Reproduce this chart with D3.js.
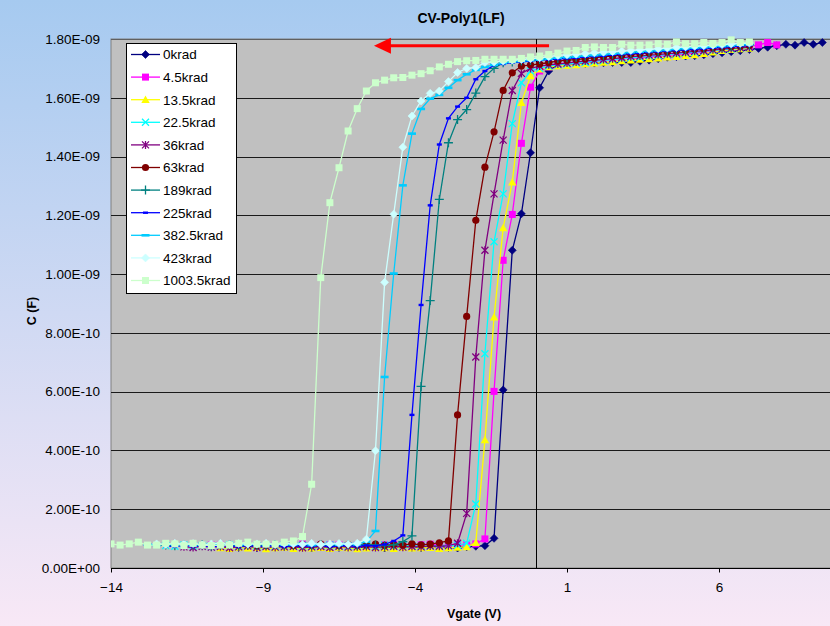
<!DOCTYPE html>
<html><head><meta charset="utf-8">
<script src="https://cdn.jsdelivr.net/npm/d3@7"></script>
<style>
body{margin:0;background:#fff;}
svg{display:block;font-family:"Liberation Sans",Arial,sans-serif;}
</style>
</head><body>
<svg id="chart" width="830" height="626"></svg>
<script>
// ---------------- DATA ----------------
const chartTitle = "CV-Poly1(LF)";
const xTitle = "Vgate (V)";
const yTitle = "C (F)";
const capUnit = 1e-10; // series values below are in units of 1e-10 F

// gate voltage sweep points (V)
const vgate = [-14.0,-13.7,-13.4,-13.1,-12.8,-12.5,-12.2,-11.9,-11.6,-11.3,-11.0,-10.7,-10.4,-10.1,-9.8,-9.5,-9.2,-8.9,-8.6,-8.3,
  -8.0,-7.7,-7.4,-7.1,-6.8,-6.5,-6.2,-5.9,-5.6,-5.3,-5.0,-4.7,-4.4,-4.1,-3.8,-3.5,-3.2,-2.9,-2.6,-2.3,
  -2.0,-1.7,-1.4,-1.1,-0.8,-0.5,-0.2,0.1,0.4,0.7,1.0,1.3,1.6,1.9,2.2,2.5,2.8,3.1,3.4,3.7,
  4.0,4.3,4.6,4.9,5.2,5.5,5.8,6.1,6.4,6.7,7.0,7.3,7.6,7.9,8.2,8.5,8.8,9.1,9.4,9.7];

const seriesNames = ["0krad","4.5krad","13.5krad","22.5krad","36krad","63krad","189krad","225krad","382.5krad","423krad","1003.5krad"];
const seriesColors = ["#000080","#FF00FF","#FFFF00","#00FFFF","#800080","#800000","#008080","#0000FF","#00CCFF","#CCFFFF","#CCFFCC"];
const seriesMarkers = ["diamond","square","triangle","x","star","circle","plus","dash","longdash","diamond","square"];
// first sweep voltage of each series
const seriesStartV = [-10.1,-10.7,-10.4,-12.2,-11.6,-10.7,-12.2,-12.2,-12.8,-12.5,-14.0];

const c0krad = [0.72,0.70,0.74,0.69,0.72,0.71,0.75,0.70,0.73,0.68,0.72,0.74,0.70,0.71,0.69,0.73,0.72,0.68,0.71,0.74,0.70,0.69,0.72,0.73,0.70,0.68,0.72,0.74,
  0.76,1.01,6.06,10.81,12.05,14.13,16.34,16.91,17.14,
  17.15,17.15,17.17,17.18,17.19,17.20,17.20,17.20,17.24,17.28,17.33,17.38,17.40,17.42,17.43,17.46,17.50,17.53,17.57,17.60,17.64,17.68,17.72,17.77,17.82,17.79,17.88,17.82,17.88];
const c4_5krad = [0.78,0.80,0.76,0.79,0.82,0.77,0.78,0.80,0.76,0.79,0.81,0.77,0.78,0.80,0.79,0.76,0.78,0.81,0.77,0.79,0.80,0.78,0.76,0.79,0.81,0.78,0.77,0.80,0.79,
  0.82,0.99,6.01,10.47,12.03,14.45,16.36,16.91,17.05,17.10,
  17.15,17.18,17.22,17.25,17.28,17.30,17.33,17.35,17.36,17.40,17.42,17.45,17.47,17.50,17.52,17.56,17.58,17.62,17.66,17.70,17.75,17.80,17.88,17.80];
const c13_5krad = [0.68,0.66,0.70,0.67,0.69,0.65,0.68,0.70,0.66,0.68,0.67,0.69,0.66,0.70,0.68,0.65,0.67,0.69,0.68,0.66,0.70,0.67,0.68,0.69,0.66,0.68,0.70,
  0.72,0.86,4.36,8.53,11.57,13.13,15.83,16.74,16.97,17.05,17.08,
  17.10,17.12,17.15,17.18,17.20,17.22,17.25,17.28,17.30,17.32,17.35,17.38,17.40,17.43,17.46,17.50,17.55,17.60,17.64,17.66,17.68];
const c22_5krad = [0.76,0.74,0.78,0.75,0.77,0.73,0.76,0.78,0.74,0.77,0.75,0.76,0.73,0.78,0.75,0.77,0.74,0.76,0.78,0.75,0.73,0.77,0.76,0.74,0.78,0.75,0.77,0.76,0.74,0.75,0.77,0.76,0.78,
  0.84,2.18,7.29,11.10,12.73,15.12,16.51,16.91,17.00,17.08,17.12,
  17.15,17.18,17.20,17.24,17.27,17.30,17.33,17.36,17.38,17.42,17.44,17.47,17.50,17.53,17.55,17.58,17.61,17.64,17.66,17.69,17.71];
const c36krad = [0.72,0.70,0.74,0.71,0.73,0.69,0.72,0.75,0.70,0.73,0.71,0.72,0.74,0.69,0.72,0.73,0.70,0.74,0.71,0.72,0.73,0.70,0.72,0.74,0.71,0.73,0.72,0.75,0.74,0.76,
  0.84,1.86,7.18,10.81,12.73,14.56,16.25,16.83,17.00,17.08,17.12,17.15,
  17.18,17.22,17.25,17.28,17.30,17.33,17.36,17.40,17.42,17.45,17.47,17.50,17.52,17.55,17.58,17.60,17.63,17.66,17.68,17.70,17.72];
const c63krad = [0.78,0.80,0.77,0.79,0.81,0.76,0.78,0.80,0.79,0.77,0.80,0.78,0.81,0.79,0.77,0.80,0.78,0.79,0.81,0.77,0.80,0.78,0.82,0.79,0.81,
  0.86,0.92,5.21,8.56,11.83,13.64,14.84,16.25,16.85,17.08,17.12,17.15,17.20,17.25,
  17.28,17.30,17.33,17.36,17.40,17.42,17.45,17.48,17.50,17.52,17.55,17.57,17.60,17.62,17.65,17.67,17.70,17.72,17.74,17.76,17.78];
const c189krad = [0.78,0.76,0.80,0.77,0.79,0.75,0.78,0.80,0.76,0.79,0.77,0.78,0.80,0.76,0.79,0.78,0.77,0.80,0.76,0.78,0.79,0.77,0.80,0.78,0.76,0.79,
  0.90,1.09,6.18,9.10,12.54,14.47,15.26,15.60,16.16,16.72,17.00,17.19,17.22,17.25,17.27,17.30,17.32,17.34,
  17.36,17.38,17.41,17.43,17.45,17.48,17.50,17.52,17.54,17.56,17.58,17.60,17.63,17.65,17.67,17.69,17.71,17.73,17.75,17.77,17.80];
const c225krad = [0.75,0.73,0.77,0.74,0.76,0.72,0.75,0.77,0.73,0.76,0.74,0.75,0.77,0.73,0.76,0.75,0.74,0.77,0.73,0.75,0.76,0.74,0.77,0.75,0.80,
  0.92,1.11,5.21,8.95,12.34,14.41,15.30,15.70,16.00,16.63,16.91,17.11,17.15,17.20,17.22,17.25,17.28,17.30,17.32,
  17.34,17.36,17.39,17.41,17.43,17.46,17.48,17.50,17.52,17.55,17.57,17.59,17.61,17.63,17.65,17.67,17.70,17.72,17.74,17.76,17.78];
const c382_5krad = [0.80,0.78,0.82,0.79,0.81,0.77,0.80,0.82,0.78,0.81,0.79,0.80,0.82,0.78,0.81,0.80,0.79,0.82,0.78,0.80,0.81,0.79,0.82,0.80,
  0.90,1.26,6.50,10.02,13.02,14.78,15.62,15.97,16.10,16.34,16.60,16.80,16.95,17.05,17.12,17.18,17.22,17.25,17.28,17.30,17.33,17.36,
  17.38,17.40,17.43,17.45,17.48,17.50,17.52,17.55,17.57,17.59,17.61,17.63,17.66,17.68,17.70,17.72,17.74,17.76,17.78,17.80,17.82];
const c423krad = [0.82,0.80,0.84,0.81,0.83,0.79,0.82,0.84,0.80,0.83,0.81,0.82,0.84,0.80,0.83,0.82,0.81,0.84,0.80,0.82,0.83,0.81,0.84,
  0.98,3.99,9.72,12.04,14.32,15.38,15.89,16.15,16.23,16.55,16.86,17.00,17.03,17.20,17.22,17.25,17.28,17.30,17.33,17.36,17.40,17.44,
  17.46,17.48,17.50,17.53,17.55,17.57,17.59,17.61,17.63,17.65,17.67,17.69,17.71,17.73,17.75,17.77,17.79,17.81,17.83,17.85,17.86];
const c1003_5krad = [0.82,0.78,0.82,0.88,0.78,0.78,0.84,0.82,0.76,0.84,0.78,0.76,0.78,0.78,0.84,0.88,0.81,0.81,0.81,0.88,0.92,
  1.07,2.85,9.88,12.43,13.62,14.87,15.63,16.23,16.51,16.60,16.68,16.69,16.77,16.82,16.92,17.05,17.14,17.23,17.26,17.27,17.31,17.31,17.31,17.31,17.34,17.39,17.42,
  17.47,17.52,17.59,17.61,17.71,17.73,17.71,17.71,17.82,17.79,17.79,17.80,17.84,17.82,17.90,17.84,17.84,17.88,17.85,17.88,17.97,17.88,17.90];

const seriesValues = [c0krad,c4_5krad,c13_5krad,c22_5krad,c36krad,c63krad,c189krad,c225krad,c382_5krad,c423krad,c1003_5krad];

const xTickValues = [-14,-9,-4,1,6];
const yTickValues = [0,2,4,6,8,10,12,14,16,18]; // x 1e-10 F
const xDomain = [-14,10];
const yDomain = [0,18];
// red arrow annotation (V, C in 1e-10 F)
const arrowFrom = [0.41,17.77];
const arrowTo = [-5.35,17.77];

// ---------------- DRAW ----------------
const W = 830, H = 626;
const plot = {left:111, right:840.6, top:39, bottom:568};
const svg = d3.select("#chart");

const defs = svg.append("defs");
const grad = defs.append("linearGradient").attr("id","bg").attr("x1",0).attr("y1",0).attr("x2",0).attr("y2",1);
grad.append("stop").attr("offset","0%").attr("stop-color","#A6CAF0");
grad.append("stop").attr("offset","100%").attr("stop-color","#F8E8F6");
defs.append("clipPath").attr("id","clip").append("rect")
  .attr("x",plot.left).attr("y",plot.top-6).attr("width",plot.right-plot.left).attr("height",plot.bottom-plot.top+6);

svg.append("rect").attr("width",W).attr("height",H).attr("fill","url(#bg)");

const x = d3.scaleLinear().domain(xDomain).range([plot.left,plot.right]);
const y = d3.scaleLinear().domain(yDomain).range([plot.bottom,plot.top]);

// plot area
svg.append("rect").attr("x",plot.left).attr("y",plot.top)
  .attr("width",plot.right-plot.left).attr("height",plot.bottom-plot.top)
  .attr("fill","#C0C0C0").attr("stroke","#808080").attr("stroke-width",1);

// horizontal gridlines
svg.append("g").selectAll("line").data(yTickValues.filter(d=>d>0)).join("line")
  .attr("x1",plot.left).attr("x2",plot.right)
  .attr("y1",d=>Math.round(y(d))+0.5).attr("y2",d=>Math.round(y(d))+0.5)
  .attr("stroke",d=>d===18?"#606060":"#1a1a1a").attr("stroke-width",1);

// value axis line at V = 0
svg.append("line").attr("x1",Math.floor(x(0))+0.5).attr("x2",Math.floor(x(0))+0.5)
  .attr("y1",plot.top).attr("y2",plot.bottom).attr("stroke","#000").attr("stroke-width",1);

// x axis
const fmtE = v => {
  const s = (v*capUnit).toExponential(2).split("e");
  const e = parseInt(s[1],10);
  return s[0] + "E" + (e<0?"-":"+") + String(Math.abs(e)).padStart(2,"0");
};
const xAxis = d3.axisBottom(x).tickValues(xTickValues).tickSize(4).tickPadding(8).tickFormat(d3.format("d"));
const gx = svg.append("g").attr("transform",`translate(0,${plot.bottom+0.5})`).call(xAxis);
gx.select(".domain").attr("stroke","#000").attr("d",`M${plot.left},0H${plot.right}`);
gx.selectAll(".tick line").attr("stroke","#000");
gx.selectAll(".tick text").attr("font-size","13.5px").attr("fill","#000")
  .attr("font-family","'Liberation Sans',Arial,sans-serif").attr("dy","0.85em");

// y axis labels
const yAxis = d3.axisLeft(y).tickValues(yTickValues).tickSize(0).tickPadding(11).tickFormat(fmtE);
const gy = svg.append("g").attr("transform",`translate(${plot.left},0)`).call(yAxis);
gy.select(".domain").remove();
gy.selectAll(".tick text").attr("font-size","13.5px").attr("fill","#000")
  .attr("font-family","'Liberation Sans',Arial,sans-serif");

// marker drawing
function drawMarker(g, type, color){
  switch(type){
    case "diamond": g.append("path").attr("d","M0,-4L4,0L0,4L-4,0Z").attr("fill",color).attr("stroke",color).attr("stroke-width",0.6); break;
    case "square": g.append("rect").attr("x",-3.5).attr("y",-3.5).attr("width",7).attr("height",7).attr("fill",color); break;
    case "triangle": g.append("path").attr("d","M0,-4.2L4.2,3.3L-4.2,3.3Z").attr("fill",color); break;
    case "x": g.append("path").attr("d","M-3.5,-3.5L3.5,3.5M-3.5,3.5L3.5,-3.5").attr("stroke",color).attr("stroke-width",1.3).attr("fill","none"); break;
    case "star": g.append("path").attr("d","M-3.5,-3.5L3.5,3.5M-3.5,3.5L3.5,-3.5M0,-4L0,4").attr("stroke",color).attr("stroke-width",1.3).attr("fill","none"); break;
    case "circle": g.append("circle").attr("r",3.6).attr("fill",color); break;
    case "plus": g.append("path").attr("d","M-4.5,0L4.5,0M0,-4.5L0,4.5").attr("stroke",color).attr("stroke-width",1.3).attr("fill","none"); break;
    case "dash": g.append("rect").attr("x",-2.5).attr("y",-1.2).attr("width",5).attr("height",2.4).attr("fill",color); break;
    case "longdash": g.append("rect").attr("x",-4).attr("y",-1.3).attr("width",8).attr("height",2.6).attr("fill",color); break;
  }
}

// series
const line = d3.line().x(d=>x(d.v)).y(d=>y(d.c));
const gSeries = svg.append("g").attr("clip-path","url(#clip)");
seriesValues.forEach((vals,i)=>{
  const i0 = vgate.indexOf(seriesStartV[i]);
  const pts = vals.map((c,j)=>({v:vgate[i0+j], c:c}));
  const g = gSeries.append("g");
  g.append("path").datum(pts).attr("d",line).attr("fill","none")
    .attr("stroke",seriesColors[i]).attr("stroke-width",1.3);
  pts.forEach(p=>{
    const m = g.append("g").attr("transform",`translate(${x(p.v)},${y(p.c)})`);
    drawMarker(m, seriesMarkers[i], seriesColors[i]);
  });
});

// red arrow annotation
const ax0 = x(arrowFrom[0]), ay = y(arrowFrom[1]), ax1 = x(arrowTo[0]);
svg.append("line").attr("x1",ax0).attr("x2",ax1+14).attr("y1",ay).attr("y2",ay)
  .attr("stroke","#FF0000").attr("stroke-width",3);
svg.append("path").attr("d",`M${ax1},${ay}L${ax1+17},${ay-8}L${ax1+17},${ay+8}Z`).attr("fill","#FF0000");

// legend
const lg = svg.append("g");
lg.append("rect").attr("x",126.5).attr("y",43.5).attr("width",110).attr("height",250)
  .attr("fill","#fff").attr("stroke","#000").attr("stroke-width",1);
seriesNames.forEach((name,i)=>{
  const ry = 54.5 + i*22.6;
  lg.append("line").attr("x1",131).attr("x2",160).attr("y1",ry).attr("y2",ry)
    .attr("stroke",seriesColors[i]).attr("stroke-width",1.3);
  const m = lg.append("g").attr("transform",`translate(145.5,${ry})`);
  drawMarker(m, seriesMarkers[i], seriesColors[i]);
  lg.append("text").attr("x",163).attr("y",ry+4.8).attr("font-size","13.5px").attr("fill","#000").text(name);
});

// titles
svg.append("text").attr("x",461).attr("y",23).attr("text-anchor","middle")
  .attr("font-size","14px").attr("font-weight","bold").text(chartTitle);
svg.append("text").attr("x",474).attr("y",618).attr("text-anchor","middle")
  .attr("font-size","12.5px").attr("font-weight","bold").text(xTitle);
svg.append("text").attr("transform","translate(36,311) rotate(-90)").attr("text-anchor","middle")
  .attr("font-size","12.5px").attr("font-weight","bold").text(yTitle);
</script>
</body></html>
